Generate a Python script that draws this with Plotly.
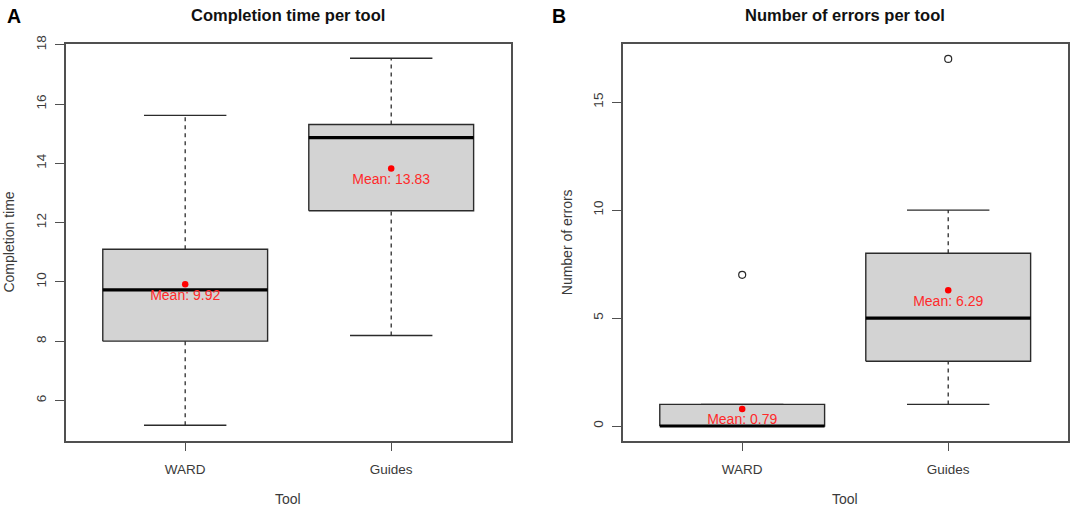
import plotly.graph_objects as go

# ---------------- data ----------------
tools = ["WARD", "Guides"]
positions = [1, 2]

# Panel A: completion time
time_lower = [5.16, 8.19]
time_q1 = [8.00, 12.40]
time_median = [9.73, 14.87]
time_q3 = [11.10, 15.31]
time_upper = [15.62, 17.55]
time_mean = [9.92, 13.83]
time_outliers = [[], []]
time_ticks = [6, 8, 10, 12, 14, 16, 18]

# Panel B: number of errors
err_lower = [0, 1]
err_q1 = [0, 3]
err_median = [0, 5]
err_q3 = [1, 8]
err_upper = [1, 10]
err_mean = [0.79, 6.29]
err_outliers = [[7], [17]]
err_ticks = [0, 5, 10, 15]

# ---------------- styling ----------------
W, H = 1072, 508
FONT = "Liberation Sans, Arial, sans-serif"
DARK = "#2b2b2b"
FRAME = "#505050"
TXT = "#3a3a3a"
BOX_HALF = 0.4
CAP_HALF = 0.2
# vertical calibration of the photographed page
Y0, YS = 8.7, 0.983


def px(xp):
    return xp / W


def py(yp):
    q = (yp - Y0) / YS
    return 1 - q / H


fig = go.Figure()


def add_panel(xa, ya, lower, q1, med, q3, upper, mean, outliers):
    for i, p in enumerate(positions):
        # box
        fig.add_trace(go.Scatter(
            x=[p - BOX_HALF, p + BOX_HALF, p + BOX_HALF, p - BOX_HALF, p - BOX_HALF],
            y=[q1[i], q1[i], q3[i], q3[i], q1[i]],
            mode="lines", fill="toself", fillcolor="#d3d3d3",
            line=dict(color=DARK, width=1.4), xaxis=xa, yaxis=ya,
            hoverinfo="skip", showlegend=False))
        # whiskers (dashed)
        for a, b in ((lower[i], q1[i]), (q3[i], upper[i])):
            fig.add_trace(go.Scatter(
                x=[p, p], y=[a, b], mode="lines",
                line=dict(color=DARK, width=1.3, dash="4px,4px"),
                xaxis=xa, yaxis=ya, hoverinfo="skip", showlegend=False))
        # caps
        for v in (lower[i], upper[i]):
            fig.add_trace(go.Scatter(
                x=[p - CAP_HALF, p + CAP_HALF], y=[v, v], mode="lines",
                line=dict(color=DARK, width=1.4),
                xaxis=xa, yaxis=ya, hoverinfo="skip", showlegend=False))
        # median
        fig.add_trace(go.Scatter(
            x=[p - BOX_HALF, p + BOX_HALF], y=[med[i], med[i]], mode="lines",
            line=dict(color="#000000", width=3.2),
            xaxis=xa, yaxis=ya, hoverinfo="skip", showlegend=False))
        # outliers
        if outliers[i]:
            fig.add_trace(go.Scatter(
                x=[p] * len(outliers[i]), y=outliers[i], mode="markers",
                marker=dict(symbol="circle-open", size=7, color=DARK,
                            line=dict(width=1.2, color=DARK)),
                xaxis=xa, yaxis=ya, hoverinfo="skip", showlegend=False))
        # mean
        fig.add_trace(go.Scatter(
            x=[p], y=[mean[i]], mode="markers+text",
            marker=dict(symbol="circle", size=6.5, color="#ff0000"),
            text=[f"Mean: {mean[i]:.2f}"], textposition="bottom center",
            textfont=dict(family=FONT, size=14, color="#ff2a2a"),
            xaxis=xa, yaxis=ya, hoverinfo="skip", showlegend=False))


add_panel("x", "y", time_lower, time_q1, time_median, time_q3, time_upper,
          time_mean, time_outliers)
add_panel("x2", "y2", err_lower, err_q1, err_median, err_q3, err_upper,
          err_mean, err_outliers)

ydom = [py(440.7), py(44)]
xdomA = [px(65.7), px(510.7)]
xdomB = [px(622.7), px(1067.7)]

axis_common = dict(
    showline=True, mirror=True, linecolor=FRAME, linewidth=1.5,
    showgrid=False, zeroline=False, ticks="outside", ticklen=9,
    tickwidth=1.3, tickcolor=FRAME,
    tickfont=dict(family=FONT, size=13.5, color=TXT),
)

fig.update_layout(
    width=W, height=H,
    margin=dict(l=0, r=0, t=0, b=0),
    paper_bgcolor="white", plot_bgcolor="white",
    xaxis=dict(domain=xdomA, range=[0.42, 2.58], tickvals=positions,
               ticktext=tools, anchor="y", ticklabelstandoff=6, **axis_common),
    yaxis=dict(domain=ydom, range=[4.64, 18.02], tickvals=time_ticks,
               tickangle=-90, anchor="x", ticklabelstandoff=4, **axis_common),
    xaxis2=dict(domain=xdomB, range=[0.42, 2.58], tickvals=positions,
                ticktext=tools, anchor="y2", ticklabelstandoff=6, **axis_common),
    yaxis2=dict(domain=ydom, range=[-0.68, 17.68], tickvals=err_ticks,
                tickangle=-90, anchor="x2", ticklabelstandoff=4, **axis_common),
    showlegend=False,
)

ann = []
# panel letters
ann.append(dict(text="<b>A</b>", x=px(14.3), y=py(16.0), font=dict(size=19.5, color="#000")))
ann.append(dict(text="<b>B</b>", x=px(559), y=py(16.0), font=dict(size=19.5, color="#000")))
# titles
ann.append(dict(text="<b>Completion time per tool</b>", x=px(288), y=py(15.0),
                font=dict(size=16.5, color="#111")))
ann.append(dict(text="<b>Number of errors per tool</b>", x=px(845), y=py(15.0),
                font=dict(size=16.5, color="#111")))
# axis titles
ann.append(dict(text="Completion time", x=px(9), y=py(242.4), textangle=-90,
                font=dict(size=14, color=TXT)))
ann.append(dict(text="Number of errors", x=px(566.7), y=py(242.4), textangle=-90,
                font=dict(size=14, color=TXT)))
ann.append(dict(text="Tool", x=px(288), y=py(499), font=dict(size=14, color=TXT)))
ann.append(dict(text="Tool", x=px(845), y=py(499), font=dict(size=14, color=TXT)))

for a in ann:
    a.update(xref="paper", yref="paper", showarrow=False,
             xanchor="center", yanchor="middle")
    a["font"]["family"] = FONT
fig.update_layout(annotations=ann)

# place the figure at the page's top-left corner (no default body margin)
fig.write_html(
    "out.html",
    config={"displayModeBar": False},
    post_script="document.body.style.margin='0';document.body.style.overflow='hidden';",
)
